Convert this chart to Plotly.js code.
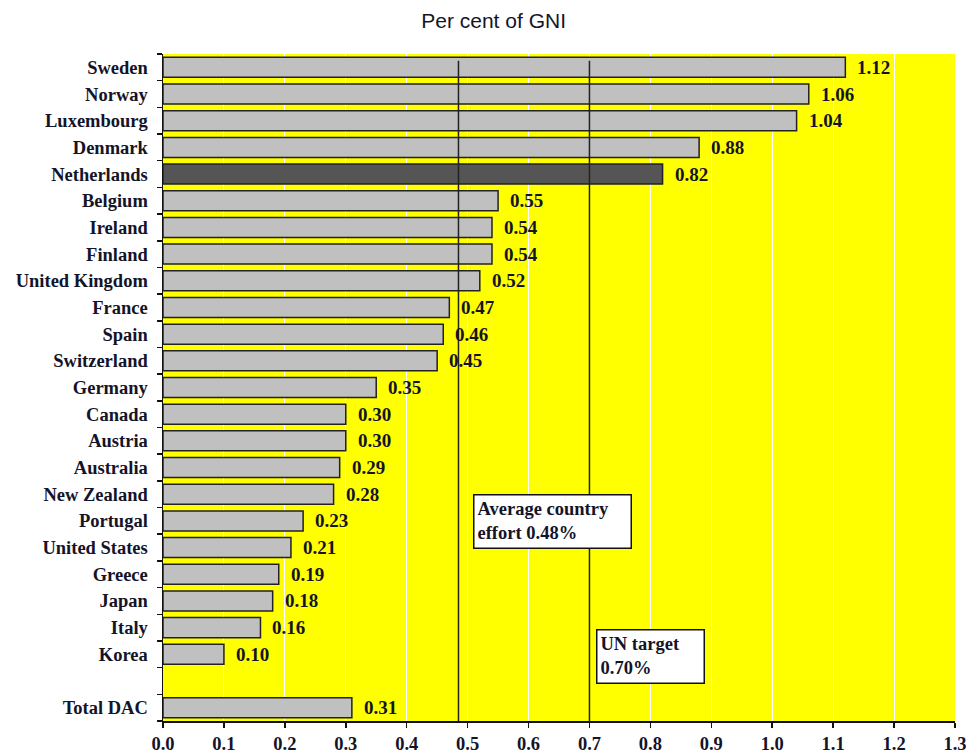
<!DOCTYPE html>
<html>
<head>
<meta charset="utf-8">
<script src="https://cdn.plot.ly/plotly-3.0.1.min.js"></script>
<style>html,body{margin:0;padding:0;background:#fff;}#chart{width:966px;height:753px;}</style>
</head>
<body>
<div id="chart"></div>
<script>
// Data
const countries = ["Sweden","Norway","Luxembourg","Denmark","Netherlands","Belgium","Ireland","Finland","United Kingdom","France","Spain","Switzerland","Germany","Canada","Austria","Australia","New Zealand","Portugal","United States","Greece","Japan","Italy","Korea"," ","Total DAC"];
const values = [1.12,1.06,1.04,0.88,0.82,0.55,0.54,0.54,0.52,0.47,0.46,0.45,0.35,0.30,0.30,0.29,0.28,0.23,0.21,0.19,0.18,0.16,0.10,null,0.31];
const valueLabels = ["1.12","1.06","1.04","0.88","0.82","0.55","0.54","0.54","0.52","0.47","0.46","0.45","0.35","0.30","0.30","0.29","0.28","0.23","0.21","0.19","0.18","0.16","0.10","","0.31"];
const highlight = "Netherlands";
const refLines = [0.485, 0.70];
const refLabels = ["Average country<br>effort 0.48%", "UN target<br>0.70%"];
const xTicks = [0.0,0.1,0.2,0.3,0.4,0.5,0.6,0.7,0.8,0.9,1.0,1.1,1.2,1.3];

const serif = "Liberation Serif, Times New Roman, serif";
const txtColor = "#141428";

const barColors = countries.map(c => c === highlight ? "#555555" : "#C0C0C0");

const trace = {
  type: "bar",
  orientation: "h",
  y: countries,
  x: values,
  marker: {color: barColors, line: {color: "#222222", width: 1.5}},
  hoverinfo: "x+y"
};

const annotations = [];
countries.forEach((c, i) => {
  if (values[i] !== null) {
    annotations.push({
      x: values[i], y: c, xref: "x", yref: "y",
      text: "<b>" + valueLabels[i] + "</b>",
      showarrow: false, xanchor: "left", yanchor: "middle", xshift: 10,
      font: {family: serif, size: 19, color: txtColor}
    });
  }
});
// reference boxes
const boxPos = [{x: refLines[0], ypaper: 0.340, w: 150, h: 46}, {x: refLines[1], ypaper: 0.138, w: 100, h: 46}];
refLabels.forEach((t, i) => {
  annotations.push({
    x: refLines[i], xref: "x", y: boxPos[i].ypaper, yref: "paper",
    text: "<b>" + t + "</b>", showarrow: false,
    xanchor: "left", yanchor: "top", align: "left", valign: "top",
    xshift: i === 0 ? 15 : 7,
    width: boxPos[i].w, height: boxPos[i].h,
    bgcolor: "#ffffff", bordercolor: "#111111", borderwidth: 1.5, borderpad: 3,
    font: {family: serif, size: 18.5, color: txtColor}
  });
});

const shapes = refLines.map(v => ({
  type: "line", xref: "x", yref: "paper", x0: v, x1: v, y0: 0, y1: 0.99,
  line: {color: "#222222", width: 1.5}, layer: "above"
}));

const layout = {
  width: 966, height: 753,
  margin: {l: 163, r: 11, t: 54, b: 32},
  paper_bgcolor: "#ffffff",
  plot_bgcolor: "#FFFF00",
  bargap: 0.25,
  showlegend: false,
  title: {text: "Per cent of GNI", x: 0.511, xanchor: "center", xref: "container", y: 0.973, yanchor: "middle",
          font: {family: "Liberation Sans, Arial, sans-serif", size: 21, color: "#14142a"}},
  xaxis: {
    range: [0, 1.3], tickvals: xTicks, ticktext: xTicks.map(v => "<b>" + v.toFixed(1) + "</b>"),
    showgrid: true, gridcolor: "#ffffff", gridwidth: 1,
    showline: true, linecolor: "#111111", linewidth: 1.5,
    ticks: "outside", ticklen: 5, tickcolor: "#111111", tickwidth: 1.5,
    ticklabeloverflow: "allow",
    zeroline: false, tickfont: {family: serif, size: 18.5, color: txtColor}
  },
  yaxis: {
    type: "category", categoryorder: "array", categoryarray: countries,
    autorange: "reversed",
    showgrid: false, showline: true, linecolor: "#111111", linewidth: 1.5,
    ticks: "outside", ticklen: 5, tickcolor: "#111111", tickwidth: 1.5, tickson: "boundaries",
    ticktext: countries.map(c => "<b>" + c + "</b>"), tickvals: countries,
    tickfont: {family: serif, size: 18.5, color: txtColor}, ticklabelstandoff: 10
  },
  annotations: annotations,
  shapes: shapes
};

Plotly.newPlot("chart", [trace], layout, {displayModeBar: false, staticPlot: true});
</script>
</body>
</html>
